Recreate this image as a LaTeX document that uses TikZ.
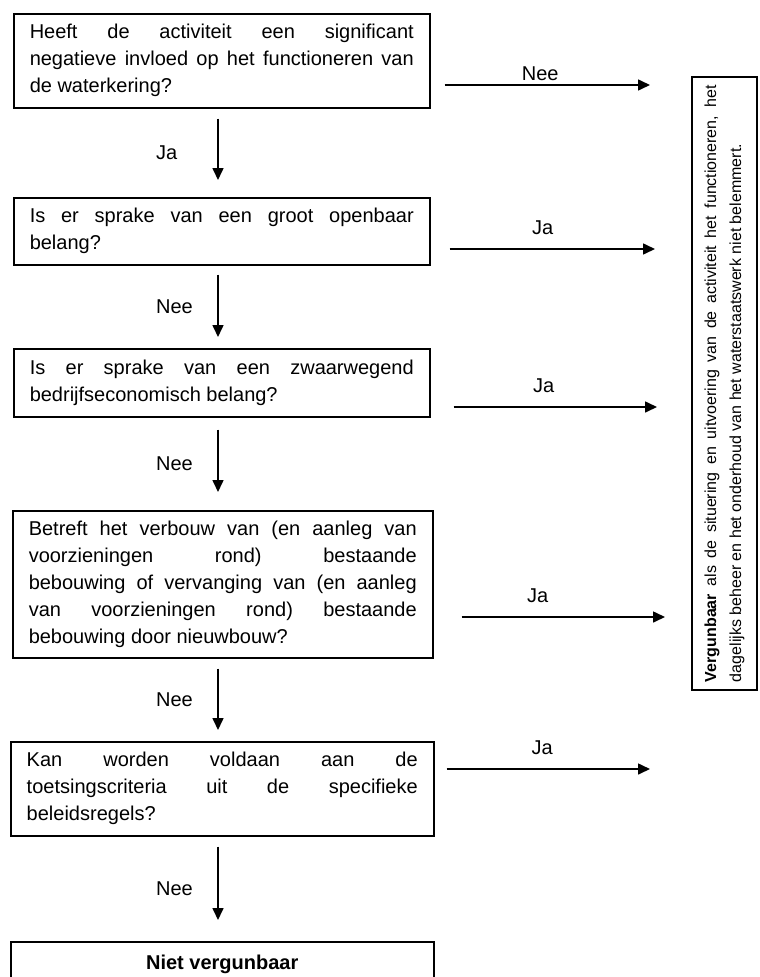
\documentclass[tikz,border=0pt]{standalone}
\usepackage{fontspec}
\setmainfont{Liberation Sans}
\usetikzlibrary{arrows.meta}
\hyphenpenalty=10000
\exhyphenpenalty=10000
\tolerance=10000
\hbadness=10000
\setlength{\parindent}{0pt}

\tikzset{
  vraag/.style={draw, line width=1.5pt, anchor=north west, align=justify, text width=384pt, inner xsep=16pt, inner ysep=9pt, font=\fontsize{20}{27}\selectfont},
  pijl/.style={line width=1.6pt, -{Triangle[length=12pt,width=11pt]}},
  lbl/.style={font=\fontsize{20}{27}\selectfont},
  lbllinks/.style={lbl, anchor=west, xshift=-66pt},
}

\begin{document}
\begin{tikzpicture}[x=1pt,y=-1pt]
\useasboundingbox (0,0) rectangle (760,977);
\clip (0,0) rectangle (760,977);
\node[vraag, minimum height=94pt] (q1) at (13,13) {Heeft de activiteit een significant\linebreak negatieve invloed op het functioneren van\linebreak de waterkering?};
\node[vraag, minimum height=67pt] (q2) at (13,197) {Is er sprake van een groot openbaar\linebreak belang?};
\node[vraag, minimum height=68pt] (q3) at (13,348) {Is er sprake van een zwaarwegend\linebreak bedrijfseconomisch belang?};
\node[vraag, text width=388pt, minimum height=147pt] (q4) at (12,510) {Betreft het verbouw van (en aanleg van\linebreak voorzieningen rond) bestaande\linebreak bebouwing of vervanging van (en aanleg\linebreak van voorzieningen rond) bestaande\linebreak bebouwing door nieuwbouw?};
\node[vraag, text width=391pt, minimum height=94pt] (q5) at (10,741) {Kan worden voldaan aan de\linebreak toetsingscriteria uit de specifieke\linebreak beleidsregels?};
\node[draw, line width=1.5pt, anchor=north west, minimum width=423pt, inner ysep=9pt, text height=19pt, text depth=40pt, font=\fontsize{20}{27}\selectfont\bfseries] (niet) at (10,941) {Niet vergunbaar};
\node[draw, line width=1.5pt, rotate=90, text width=597pt, inner xsep=8pt, inner ysep=0pt, minimum height=65pt, align=justify, font=\fontsize{16}{25}\selectfont] (wel) at (724.5,383.5) {\textbf{Vergunbaar} als de situering en uitvoering van de activiteit het functioneren, het dagelijks beheer en het onderhoud van het waterstaatswerk niet belemmert.};

\coordinate (vx) at (218,0);
\draw[pijl, shorten <=10pt, shorten >=17pt] (q1.south -| vx) -- node[lbllinks] {Ja} (q2.north -| vx);
\draw[pijl, shorten <=9pt, shorten >=11pt] (q2.south -| vx) -- node[lbllinks] {Nee} (q3.north -| vx);
\draw[pijl, shorten <=12pt, shorten >=18pt] (q3.south -| vx) -- node[lbllinks] {Nee} (q4.north -| vx);
\draw[pijl, shorten <=10pt, shorten >=11pt] (q4.south -| vx) -- node[lbllinks] {Nee} (q5.north -| vx);
\draw[pijl, shorten <=10pt, shorten >=21pt] (q5.south -| vx) -- node[lbllinks] {Nee} (niet.north -| vx);

\coordinate (e1) at (650,85);
\coordinate (e2) at (655,249);
\coordinate (e3) at (657,407);
\coordinate (e4) at (665,617);
\coordinate (e5) at (650,769);
\draw[pijl, shorten <=14pt] (q1.east |- e1) -- node[lbl, above] {Nee} (e1);
\draw[pijl, shorten <=19pt] (q2.east |- e2) -- node[lbl, above=10pt] {Ja} (e2);
\draw[pijl, shorten <=23pt] (q3.east |- e3) -- node[lbl, above=10pt] {Ja} (e3);
\draw[pijl, shorten <=28pt] (q4.east |- e4) -- node[lbl, above=10pt, pos=.45] {Ja} (e4);
\draw[pijl, shorten <=12pt] (q5.east |- e5) -- node[lbl, above=10pt] {Ja} (e5);
\end{tikzpicture}
\end{document}
